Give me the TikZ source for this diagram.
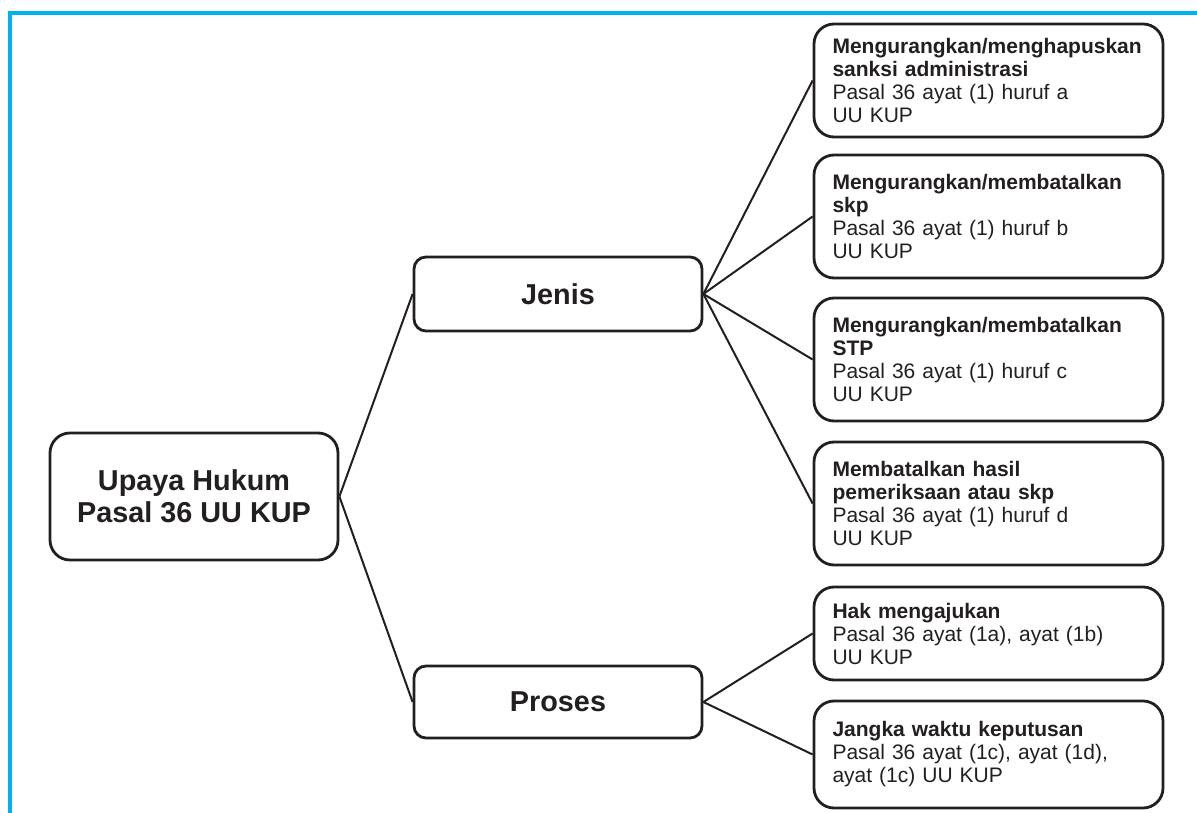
\documentclass[tikz,border=0pt]{standalone}
\usepackage{fontspec}
\setmainfont{Liberation Sans}
\definecolor{ink}{HTML}{231F20}
\definecolor{cyanline}{HTML}{00B2EE}
\tikzset{
  box/.style={draw=ink, line width=2.8pt, rounded corners=20pt, text=ink, inner sep=0pt, fill=white},
  bigbox/.style={box, minimum width=288pt, align=center, font=\fontsize{28.8}{32}\selectfont\bfseries},
  leafbox/.style={box, text width=312pt, inner xsep=18.5pt, align=left, font=\fontsize{21}{23}\selectfont},
  conn/.style={draw=ink, line width=2pt},
}
\begin{document}
\begin{tikzpicture}[x=1pt,y=-1pt]
\useasboundingbox (0,0) rectangle (1197,813);
\draw[cyanline, line width=4pt] (10,813) -- (10,13) -- (1197,13);

\node[bigbox, minimum height=127pt] (root) at (194,496.5) {Upaya Hukum\\Pasal 36 UU KUP};
\node[bigbox, minimum height=74pt, rounded corners=12pt] (jenis) at (558,294) {Jenis};
\node[bigbox, minimum height=72pt, rounded corners=12pt] (proses) at (558,702) {Proses};

\node[leafbox, minimum height=113pt] (a) at (988.5,80.5) {\textbf{Mengurangkan/menghapuskan}\\\textbf{sanksi administrasi}\\Pasal 36 ayat (1) huruf a\\UU KUP};
\node[leafbox, minimum height=123pt] (b) at (988.5,216.5) {\textbf{Mengurangkan/membatalkan}\\\textbf{skp}\\Pasal 36 ayat (1) huruf b\\UU KUP};
\node[leafbox, minimum height=123pt] (c) at (988.5,359.5) {\textbf{Mengurangkan/membatalkan}\\\textbf{STP}\\Pasal 36 ayat (1) huruf c\\UU KUP};
\node[leafbox, minimum height=123pt] (d) at (988.5,503.5) {\textbf{Membatalkan hasil}\\\textbf{pemeriksaan atau skp}\\Pasal 36 ayat (1) huruf d\\UU KUP};
\node[leafbox, minimum height=93pt] (e) at (988.5,633.5) {\textbf{Hak mengajukan}\\Pasal 36 ayat (1a), ayat (1b)\\UU KUP};
\node[leafbox, minimum height=107pt] (f) at (988.5,754.5) {\textbf{Jangka waktu keputusan}\\Pasal 36 ayat (1c), ayat (1d),\\ayat (1c) UU KUP};

\draw[conn] (root.east) -- (jenis.west);
\draw[conn] (root.east) -- (proses.west);
\foreach \t in {a,b,c,d} \draw[conn] (jenis.east) -- (\t.west);
\foreach \t in {e,f} \draw[conn] (proses.east) -- (\t.west);
\end{tikzpicture}
\end{document}
